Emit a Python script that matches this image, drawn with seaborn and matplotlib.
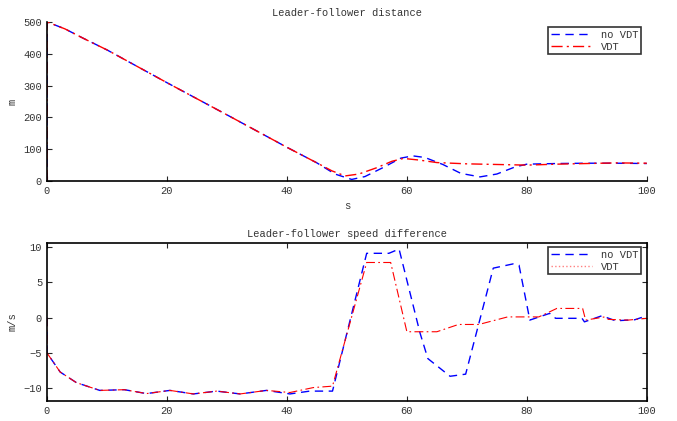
# Leader-follower distance and speed difference, with and without VDT

import numpy as np
import seaborn as sns
import matplotlib.pyplot as plt
from matplotlib.lines import Line2D

# distance (m)
t_dist_novdt = [0, 0, 3, 6, 10, 20, 30, 40, 45, 48, 50.8, 53, 56, 59, 61, 63, 66, 69, 72.2, 75, 78, 80, 85, 90, 95, 100]
d_novdt = [0, 500, 478, 449, 412, 309, 208, 106, 57, 22, 5, 14, 42, 72, 79, 74, 52, 24, 13, 22, 44, 53, 55, 56, 56, 55]
t_dist_vdt = [0, 0, 3, 6, 10, 20, 30, 40, 45, 47.5, 49.7, 52, 55, 57.5, 59.4, 62, 65, 70, 75, 80, 85, 90, 95, 100]
d_vdt = [0, 500, 478, 449, 412, 309, 208, 106, 57, 32, 16, 22, 42, 62, 71, 66, 58, 54, 52, 50, 53, 55, 57, 56]

# speed difference (m/s)
t_spd_novdt = [0, 0, 2.2, 4.9, 8.8, 12.9, 16.6, 20.5, 24.4, 28.3, 32.2, 36.6, 40.5, 43.8, 47.6, 53.3, 57, 58.7,
               62.2, 63.5, 67.2, 69.8, 74.4, 77.7, 78.7, 80.5, 83.8, 84.8, 89.2, 89.6, 92.5, 94.8, 98, 100]
v_novdt = [0, -5, -7.7, -9.2, -10.3, -10.2, -10.75, -10.3, -10.8, -10.4, -10.8, -10.3, -10.8, -10.4, -10.4,
           9.1, 9.1, 9.7, -2.2, -5.8, -8.3, -8.0, 7.0, 7.6, 7.4, -0.35, 0.6, -0.1, -0.1, -0.6, 0.26, -0.45, -0.3, 0.26]
t_spd_vdt = [0, 0, 2.2, 4.9, 8.8, 12.9, 16.6, 20.5, 24.4, 28.3, 32.2, 36.6, 40.5, 44.4, 47.6, 53.3, 57.3,
             60, 65, 68.6, 72, 76.8, 82, 85, 89.3, 89.8, 93, 93.6, 96.9, 100]
v_vdt = [0, -5, -7.7, -9.2, -10.3, -10.2, -10.75, -10.3, -10.8, -10.4, -10.8, -10.3, -10.6, -9.9, -9.7,
         7.8, 7.8, -2.0, -2.0, -0.97, -0.97, 0.1, 0.1, 1.3, 1.3, -0.35, 0.1, -0.25, -0.35, -0.1]

sns.set_style("ticks")
plt.rcParams['font.family'] = ['Liberation Mono', 'DejaVu Sans Mono']
plt.rcParams['font.size'] = 7.5
plt.rcParams['xtick.direction'] = 'in'
plt.rcParams['ytick.direction'] = 'in'
plt.rcParams['axes.edgecolor'] = 'black'
plt.rcParams['text.color'] = '#333333'
plt.rcParams['xtick.labelcolor'] = '#333333'
plt.rcParams['ytick.labelcolor'] = '#333333'
plt.rcParams['axes.labelcolor'] = '#333333'

DASH = (6, 4)
DASHDOT = (8, 3, 1.5, 3)

fig = plt.figure(figsize=(6.77, 4.21), dpi=100)
ax1 = fig.add_axes([0.0694, 0.570, 0.886, 0.378])
ax2 = fig.add_axes([0.0694, 0.0475, 0.886, 0.376])

# top panel
sns.lineplot(x=t_dist_novdt, y=d_novdt, ax=ax1, color='#0000ff', dashes=False, lw=1,
             estimator=None, sort=False)
sns.lineplot(x=t_dist_vdt, y=d_vdt, ax=ax1, color='#ff0000', lw=1,
             estimator=None, sort=False)
ax1.lines[0].set_dashes(DASH)
ax1.lines[1].set_dashes(DASHDOT)
ax1.set_xlim(0, 100)
ax1.set_ylim(0, 500)
ax1.set_xticks([0, 20, 40, 60, 80, 100])
ax1.set_yticks([0, 100, 200, 300, 400, 500])
ax1.spines['top'].set_visible(False)
ax1.spines['right'].set_visible(False)
ax1.set_title('Leader-follower distance', fontsize=7.5, pad=4)
ax1.set_xlabel('s')
ax1.set_ylabel('m')
h1 = [Line2D([], [], color='#0000ff', lw=1, dashes=DASH),
      Line2D([], [], color='#ff0000', lw=1, dashes=DASHDOT)]
leg1 = ax1.legend(h1, ['no VDT', 'VDT'], loc='upper right', bbox_to_anchor=(0.99, 0.965),
                  borderaxespad=0, fancybox=False, frameon=True,
                  handlelength=4.0, borderpad=0.25, labelspacing=0.15)
leg1.get_frame().set_edgecolor('black')
leg1.get_frame().set_linewidth(1.2)

# bottom panel
sns.lineplot(x=t_spd_novdt, y=v_novdt, ax=ax2, color='#0000ff', lw=1,
             estimator=None, sort=False)
sns.lineplot(x=t_spd_vdt, y=v_vdt, ax=ax2, color='#ff0000', lw=0.8,
             estimator=None, sort=False)
ax2.lines[0].set_dashes(DASH)
ax2.lines[1].set_dashes(DASHDOT)
ax2.set_xlim(0, 100)
ax2.set_ylim(-11.8, 10.6)
ax2.set_xticks([0, 20, 40, 60, 80, 100])
ax2.set_yticks([-10, -5, 0, 5, 10])
ax2.tick_params(top=True, right=True)
ax2.set_title('Leader-follower speed difference', fontsize=7.5, pad=4)
ax2.set_xlabel('s')
ax2.set_ylabel('m/s')
h2 = [Line2D([], [], color='#0000ff', lw=1, dashes=DASH),
      Line2D([], [], color='#ff8080', linestyle=':', lw=1)]
leg2 = ax2.legend(h2, ['no VDT', 'VDT'], loc='upper right', bbox_to_anchor=(0.99, 0.97),
                  borderaxespad=0, fancybox=False, frameon=True,
                  handlelength=4.0, borderpad=0.25, labelspacing=0.15)
leg2.get_frame().set_edgecolor('black')
leg2.get_frame().set_linewidth(1.2)

for ax in (ax1, ax2):
    for s in ax.spines.values():
        s.set_linewidth(1.2)

fig.savefig('out.png', dpi=100)
